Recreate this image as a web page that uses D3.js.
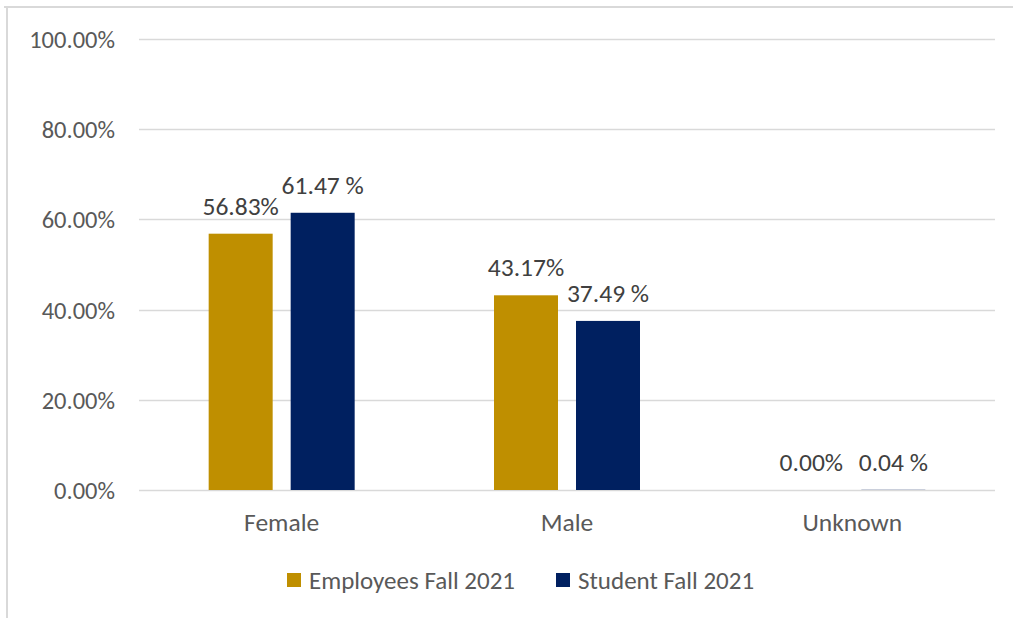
<!DOCTYPE html>
<html>
<head>
<meta charset="utf-8">
<script src="https://cdn.jsdelivr.net/npm/d3@7/dist/d3.min.js"></script>
<style>
  html, body { margin: 0; padding: 0; background: #fff; }
  svg { display: block; font-family: Carlito, Lato, sans-serif; }
</style>
</head>
<body>
<svg id="chart" width="1013" height="618"></svg>
<script>
// Gender breakdown, Fall 2021
const categories = ["Female", "Male", "Unknown"];
const seriesNames = ["Employees Fall 2021", "Student Fall 2021"];
const employees = [56.83, 43.17, 0.00];
const students = [61.47, 37.49, 0.04];
const valueLabels = [
  ["56.83%", "43.17%", "0.00%"],
  ["61.47 %", "37.49 %", "0.04 %"]
];
const yTicks = [0, 20, 40, 60, 80, 100];
const yTickLabels = ["0.00%", "20.00%", "40.00%", "60.00%", "80.00%", "100.00%"];
const colors = ["#BF8F00", "#002060"];

const seriesValues = [employees, students];
const fontFamily = "Carlito, Lato, sans-serif";

const svg = d3.select("#chart");

// outer frame (top and left edges visible)
svg.append("line").attr("x1", 4).attr("x2", 1013).attr("y1", 7).attr("y2", 7)
  .attr("stroke", "#D9D9D9").attr("stroke-width", 2);
svg.append("line").attr("x1", 7).attr("x2", 7).attr("y1", 7).attr("y2", 618)
  .attr("stroke", "#D9D9D9").attr("stroke-width", 2);

const x = d3.scaleBand().domain(categories).range([139, 995]).padding(0);
const y = d3.scaleLinear().domain([0, 100]).range([490, 39]);
const x1 = d3.scaleBand().domain(seriesNames).range([-73, 73]).paddingInner(18 / 82).paddingOuter(0);

// gridlines
svg.append("g").selectAll("line").data(yTicks).join("line")
  .attr("x1", 139).attr("x2", 995)
  .attr("y1", d => Math.round(y(d)) + 0.5).attr("y2", d => Math.round(y(d)) + 0.5)
  .attr("stroke", "#D9D9D9").attr("stroke-width", 1.5);

// y axis labels
const yAxis = d3.axisLeft(y).tickValues(yTicks)
  .tickFormat((d, i) => yTickLabels[i]).tickSize(0).tickPadding(0);
const gy = svg.append("g").attr("transform", "translate(115,0)").call(yAxis);
gy.select(".domain").remove();
gy.selectAll("text").attr("fill", "#595959").attr("font-size", 24.5)
  .attr("font-family", fontFamily).attr("dy", "0.35em");

// x axis labels
const xAxis = d3.axisBottom(x).tickSize(0).tickPadding(0);
const gx = svg.append("g").attr("transform", "translate(0,522)").call(xAxis);
gx.select(".domain").remove();
gx.selectAll("text").attr("fill", "#595959").attr("font-size", 25.5)
  .attr("font-family", fontFamily).attr("dy", "0.35em");

// bars and value labels
seriesNames.forEach((s, si) => {
  const data = categories.map((c, ci) => ({ c, v: seriesValues[si][ci], label: valueLabels[si][ci] }));
  const g = svg.append("g");
  g.selectAll("rect").data(data).join("rect")
    .attr("x", d => x(d.c) + x.bandwidth() / 2 + x1(s))
    .attr("width", x1.bandwidth())
    .attr("y", d => y(d.v))
    .attr("height", d => y(0) - y(d.v))
    .attr("fill", colors[si]);
  g.selectAll("text").data(data).join("text")
    .attr("x", d => x(d.c) + x.bandwidth() / 2 + x1(s) + x1.bandwidth() / 2)
    .attr("y", d => y(d.v) - 19)
    .attr("text-anchor", "middle")
    .attr("fill", "#404040")
    .attr("font-size", 25.5)
    .text(d => d.label);
});

// legend
const legendItems = [
  { name: seriesNames[0], color: colors[0], x: 287 },
  { name: seriesNames[1], color: colors[1], x: 556 }
];
const lg = svg.append("g");
legendItems.forEach(it => {
  lg.append("rect").attr("x", it.x).attr("y", 573).attr("width", 14).attr("height", 14)
    .attr("fill", it.color);
  lg.append("text").attr("x", it.x + 22).attr("y", 580).attr("dy", "0.35em")
    .attr("fill", "#595959").attr("font-size", 25).text(it.name);
});
</script>
</body>
</html>
